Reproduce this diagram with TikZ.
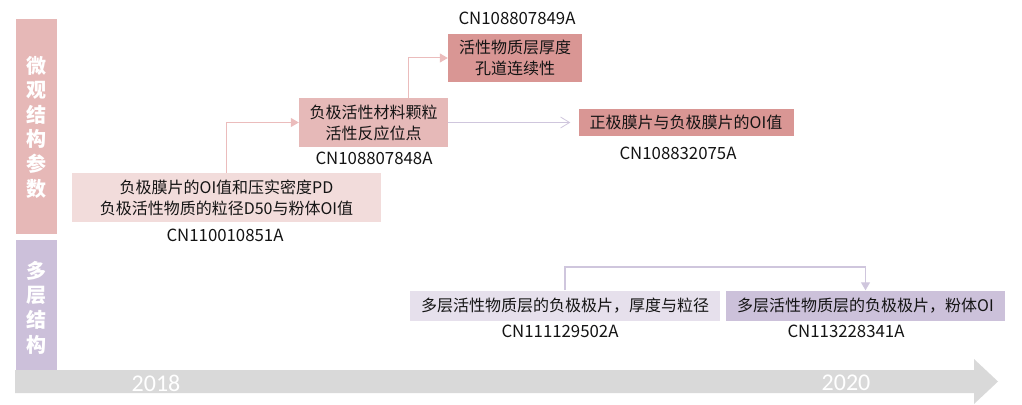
\documentclass[tikz,border=0pt]{standalone}
\usepackage{fontspec}
\setmainfont{Noto Sans CJK SC}
\newfontfamily\yearfont{Carlito}
\usetikzlibrary{arrows.meta}
\definecolor{barpink}{HTML}{E6B8B7}
\definecolor{barpurple}{HTML}{CCC0DA}
\definecolor{boxA}{HTML}{F2DCDB}
\definecolor{boxB}{HTML}{E6B9B8}
\definecolor{boxC}{HTML}{D99694}
\definecolor{boxE}{HTML}{E6E0EC}
\definecolor{boxF}{HTML}{CCC1DA}
\definecolor{timegray}{HTML}{D9D9D9}
\definecolor{txt}{HTML}{141414}
\definecolor{pinkline}{HTML}{EBBCBC}
\definecolor{lavline}{HTML}{CFC6DD}
\tikzset{
  card/.style={inner sep=0pt, text=txt, align=center, font=\fontsize{16}{21}\selectfont},
  cnlabel/.style={inner sep=0pt, text=txt, font=\fontsize{16.8}{19}\selectfont},
  bartext/.style={inner sep=0pt, text=white, align=center, font=\bfseries\fontsize{20}{24.6}\selectfont},
  yeartext/.style={inner sep=0pt, text=white, font=\yearfont\fontsize{24}{26}\selectfont},
  pinkarrow/.style={draw=pinkline, line width=1pt, -{Triangle[width=9pt,length=8pt]}},
  lavchevron/.style={draw=lavline, line width=1pt, -{Straight Barb[width=11pt,length=9pt,line width=0.8pt]}},
  lavarrow/.style={draw=lavline, line width=1.2pt, -{Triangle[width=9pt,length=8pt]}}
}
\begin{document}
\begin{tikzpicture}[x=1pt,y=-1pt]
\useasboundingbox (0,0) rectangle (1022,404);
% side bars
\fill[barpink] (16,19) rectangle (57,234);
\fill[barpurple] (16,240) rectangle (57,372);
\node[bartext] (bar1) at (36.5,127) {微\\观\\结\\构\\参\\数};
\node[bartext] (bar2) at (36.5,307.5) {多\\层\\结\\构};
% timeline
\fill[timegray] (15,370) -- (974,370) -- (974,359) -- (998,381.5) -- (974,404) -- (974,393) -- (15,393) -- cycle;
\node[yeartext] (y1) at (156,383) {2018};
\node[yeartext] (y2) at (846,383) {2020};
% boxes
\node[card, fill=boxA, minimum width=309pt, minimum height=49pt] (A) at (226.5,197.5) {负极膜片的OI值和压实密度PD\\负极活性物质的粒径D50与粉体OI值};
\node[card, fill=boxB, minimum width=149pt, minimum height=49pt] (B) at (373.5,122.5) {负极活性材料颗粒\\活性反应位点};
\node[card, fill=boxC, minimum width=134pt, minimum height=48pt] (C) at (515,58) {活性物质层厚度\\孔道连续性};
\node[card, fill=boxC, minimum width=215pt, minimum height=27pt] (D) at (686,122) {正极膜片与负极膜片的OI值};
\node[card, fill=boxE, minimum width=310pt, minimum height=30pt] (E) at (565,305.5) {多层活性物质层的负极极片，厚度与粒径};
\node[card, fill=boxF, minimum width=279pt, minimum height=30pt] (F) at (865.5,305.5) {多层活性物质层的负极极片，粉体OI};
% labels
\node[cnlabel] (lA) at (225,235) {CN110010851A};
\node[cnlabel] (lB) at (374,158) {CN108807848A};
\node[cnlabel] (lC) at (517,18) {CN108807849A};
\node[cnlabel] (lD) at (678,153) {CN108832075A};
\node[cnlabel] (lE) at (560,331) {CN111129502A};
\node[cnlabel] (lF) at (846,331) {CN113228341A};
% connectors
\draw[pinkarrow] (A.north) |- (B.west);
\draw[pinkarrow] ([xshift=34.5pt]B.north) |- (C.west);
\draw[lavchevron, shorten >=8pt] (B.east) -- (B.east -| D.west);
\draw[lavarrow] (E.north) -- (E.north |- 0,267) -| (F.north);
\end{tikzpicture}
\end{document}
